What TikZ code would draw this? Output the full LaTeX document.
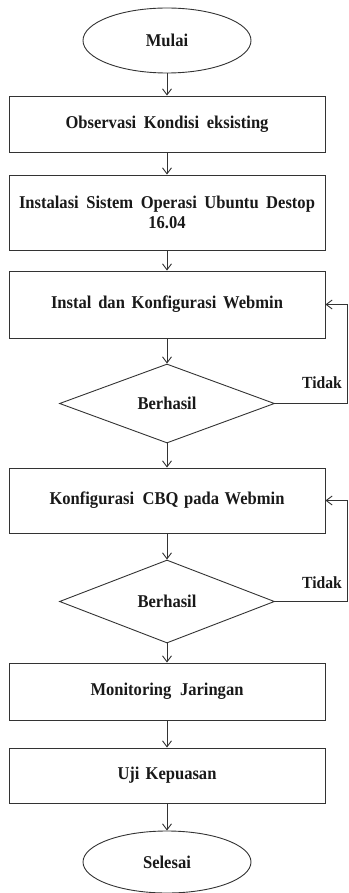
\documentclass[tikz,border=0pt]{standalone}
\usepackage{fontspec}
\setmainfont{Liberation Serif}[FakeStretch=0.92]
\usetikzlibrary{shapes.geometric,arrows.meta}
\tikzset{
  ln/.style={draw=black!80, line width=0.9pt},
  arr/.style={ln, -{Straight Barb[length=6pt,width=9pt,line width=0.9pt]}},
  procbox/.style={ln, rectangle, minimum width=316pt, inner sep=0pt, font=\bfseries\fontsize{18}{20}\selectfont, text=black!90, align=center},
  term/.style={ln, ellipse, minimum width=168pt, inner sep=0pt, font=\bfseries\fontsize{18}{20}\selectfont, text=black!90},
  decide/.style={ln, diamond, minimum width=215pt, inner sep=0pt, font=\bfseries\fontsize{18}{20}\selectfont, text=black!90},
  lbl/.style={font=\bfseries\fontsize{17}{18}\selectfont, text=black!90}
}
\begin{document}
\begin{tikzpicture}[x=1pt,y=-1pt]
\useasboundingbox (0,0) rectangle (348,893);
\node[term, minimum height=65pt] (start) at (167,40.5) {Mulai};
\node[procbox, minimum height=56pt] (obs) at (167,124) {\makebox[203pt][s]{Observasi Kondisi eksisting}};
\node[procbox, minimum height=75pt] (inst) at (167,212.5) {\makebox[296pt][s]{Instalasi Sistem Operasi Ubuntu Destop}\\16.04};
\node[procbox, minimum height=67pt] (web) at (167,304.5) {\makebox[232pt][s]{Instal dan Konfigurasi Webmin}};
\node[decide, minimum height=79pt] (d1) at (167,403.5) {Berhasil};
\node[procbox, minimum height=65pt] (cbq) at (167,500.5) {\makebox[235pt][s]{Konfigurasi\hspace{3pt} CBQ pada Webmin}};
\node[decide, minimum height=83pt] (d2) at (167,601.5) {Berhasil};
\node[procbox, minimum height=57pt] (mon) at (167,691.5) {\makebox[153pt][s]{Monitoring Jaringan}};
\node[procbox, minimum height=55pt] (uji) at (167,775.5) {\makebox[99pt][s]{Uji Kepuasan}};
\node[term, minimum height=62pt] (end) at (167,862) {Selesai};

\coordinate (r1) at (347,403.5);
\coordinate (r2) at (347,601.5);
\node[lbl] (t1) at (322,383) {Tidak};
\node[lbl] (t2) at (322,583) {Tidak};

\draw[arr] (start) -- (obs);
\draw[arr] (obs) -- (inst);
\draw[arr] (inst) -- (web);
\draw[arr] (web) -- (d1);
\draw[arr] (d1) -- (cbq);
\draw[arr] (cbq) -- (d2);
\draw[arr] (d2) -- (mon);
\draw[arr] (mon) -- (uji);
\draw[arr] (uji) -- (end);
\draw[arr] (d1.east) -- (r1) |- (web.east);
\draw[arr] (d2.east) -- (r2) |- (cbq.east);
\end{tikzpicture}
\end{document}
